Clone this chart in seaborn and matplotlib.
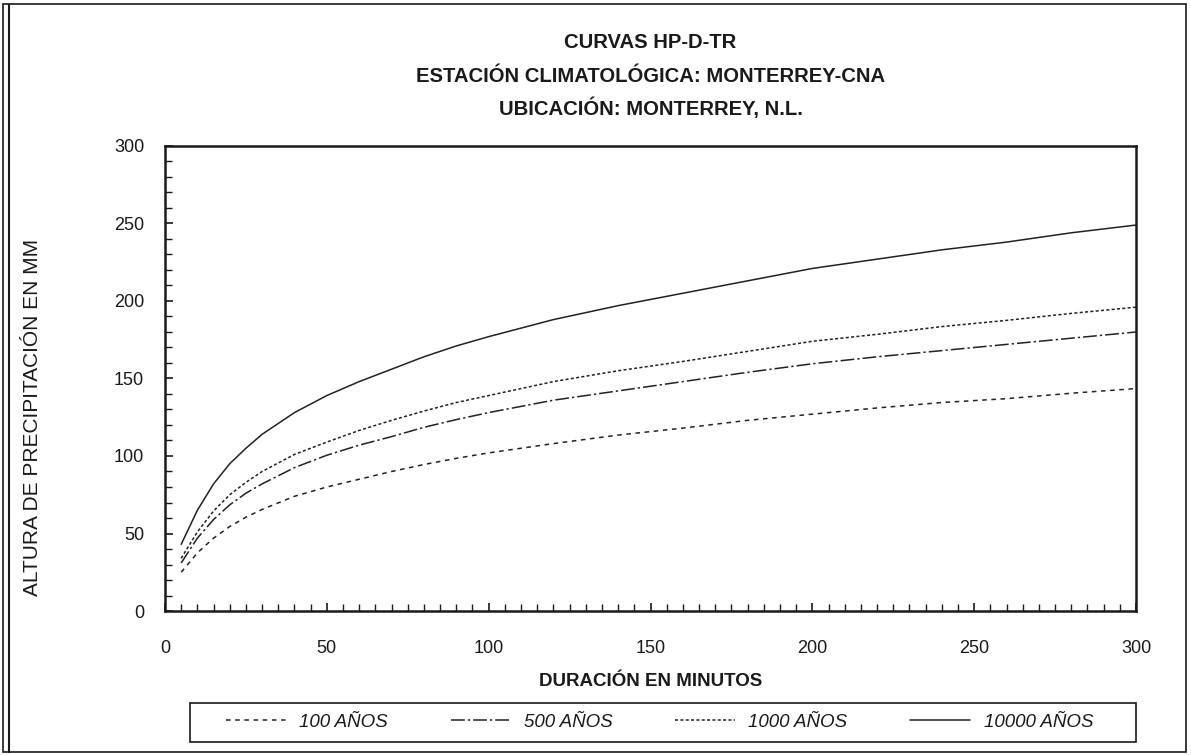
import numpy as np
import pandas as pd
import matplotlib
matplotlib.use("Agg")
import matplotlib.pyplot as plt
from matplotlib.lines import Line2D
from matplotlib.patches import Rectangle
from matplotlib.ticker import MultipleLocator
import seaborn as sns

# Duration (minutes) and rainfall depth (mm) for each return period
duracion = [5, 10, 15, 20, 25, 30, 40, 50, 60, 70, 80, 90, 100,
            120, 140, 160, 180, 200, 220, 240, 260, 280, 300]
hp_100 = [25, 37.5, 47, 54.5, 60.5, 65.5, 74, 80, 85, 90, 94.5, 98.5, 102,
          108, 113.5, 118, 123, 127, 131, 134.5, 137, 140.5, 143.5]
hp_500 = [31, 47, 59, 68.5, 76, 82, 92.5, 100.5, 107, 112.5, 118.5, 123.5, 128,
          136, 142, 148, 154, 159.5, 164, 168, 172, 176, 180]
hp_1000 = [34, 51, 64.5, 75, 83, 90, 101, 109, 116.5, 123, 129, 134.5, 139,
           148, 155, 161, 167.5, 174, 178.5, 183.5, 187.5, 192, 196]
hp_10000 = [43, 65, 82, 95, 105, 114, 128, 139, 148, 156, 164, 171, 177,
            188, 197, 205, 213, 221, 227, 233, 238, 244, 249]

series = ["100 AÑOS", "500 AÑOS", "1000 AÑOS", "10000 AÑOS"]
valores = [hp_100, hp_500, hp_1000, hp_10000]

df = pd.concat(
    [pd.DataFrame({"duracion": duracion, "hp": v, "tr": s}) for s, v in zip(series, valores)],
    ignore_index=True,
)

sns.set_theme(style="white")
plt.rcParams["font.family"] = ["Liberation Sans", "DejaVu Sans"]

INK = "#1a1a1a"
LINEA = "#222222"
estilos = {
    "100 AÑOS": (3, 3),
    "500 AÑOS": (9, 2, 1.5, 2),
    "1000 AÑOS": (2, 1.5),
    "10000 AÑOS": "",
}
paleta = {s: LINEA for s in series}

fig = plt.figure(figsize=(11.91, 7.55), dpi=100)
ax = fig.add_axes([165 / 1191, 1 - 611 / 755, 971 / 1191, 465 / 755])

sns.lineplot(data=df, x="duracion", y="hp", hue="tr", style="tr",
             dashes=estilos, palette=paleta, linewidth=1.1, ax=ax, legend=False)

ax.set_xlim(0, 300)
ax.set_ylim(0, 300)
ax.xaxis.set_major_locator(MultipleLocator(50))
ax.xaxis.set_minor_locator(MultipleLocator(5))
ax.yaxis.set_major_locator(MultipleLocator(50))
ax.yaxis.set_minor_locator(MultipleLocator(10))
ax.tick_params(axis="both", which="both", direction="in", colors=INK,
               labelsize=13, labelcolor=INK)
ax.tick_params(axis="both", which="both", bottom=True, left=True, top=False, right=False)
ax.tick_params(axis="both", which="major", length=6, width=1.2)
ax.tick_params(axis="both", which="minor", length=5, width=1.0)
ax.tick_params(axis="x", which="major", pad=21)
ax.tick_params(axis="y", which="major", pad=15)
for sp in ax.spines.values():
    sp.set_visible(True)
    sp.set_color(INK)
    sp.set_linewidth(1.8)
ax.set_xlabel("")
ax.set_ylabel("")

# Titles and axis captions
cx = (165 + 1136) / 2 / 1191
for y, txt in [(43, "CURVAS HP-D-TR"),
               (76, "ESTACIÓN CLIMATOLÓGICA: MONTERREY-CNA"),
               (108, "UBICACIÓN: MONTERREY, N.L.")]:
    fig.text(cx, 1 - y / 755, txt, ha="center", va="center",
             fontsize=14.6, fontweight="bold", color=INK)
fig.text(cx, 1 - 681 / 755, "DURACIÓN EN MINUTOS", ha="center", va="center",
         fontsize=13.5, fontweight="bold", color=INK)
fig.text(33 / 1191, 1 - 417 / 755, "ALTURA DE PRECIPITACIÓN EN MM", ha="center",
         va="center", rotation=90, fontsize=15, color=INK)

# Legend strip under the plot
handles = [Line2D([0], [0], color=LINEA, lw=1.1,
                  dashes=estilos[s] if estilos[s] else (None, None)) for s in series]
leg = fig.legend(handles, series, loc="center left",
                 bbox_to_anchor=(226 / 1191, 1 - 722 / 755),
                 ncol=4, frameon=False, borderpad=0, borderaxespad=0,
                 handlelength=3.2, handletextpad=0.7, columnspacing=3.35,
                 prop={"style": "italic", "size": 13.5})
for t in leg.get_texts():
    t.set_color(INK)
fig.patches.append(Rectangle((190 / 1191, 1 - 742 / 755), 946 / 1191, 39 / 755,
                             transform=fig.transFigure, fill=False,
                             edgecolor=INK, linewidth=1.2))

# Page frame
fig.patches.append(Rectangle((3 / 1191, 3 / 755), 1183 / 1191, 748 / 755,
                             transform=fig.transFigure, fill=False,
                             edgecolor=INK, linewidth=1.2))
fig.patches.append(Rectangle((8 / 1191, 3 / 755), 1 / 1191, 748 / 755,
                             transform=fig.transFigure, fill=False,
                             edgecolor=INK, linewidth=0.8))

fig.savefig("out.png", dpi=100)
